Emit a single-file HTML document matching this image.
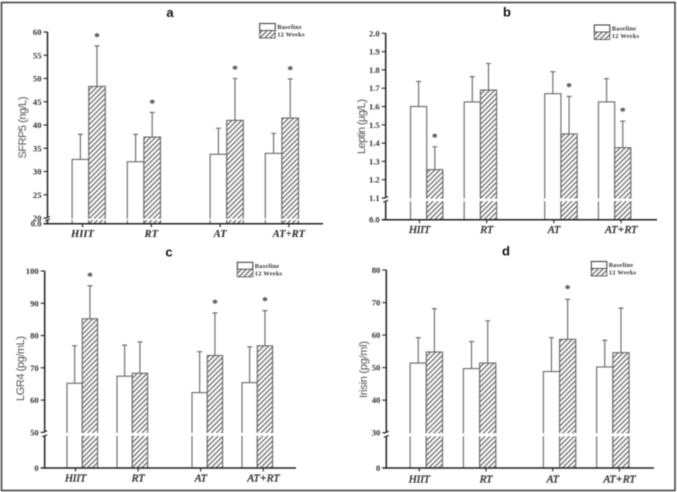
<!DOCTYPE html>
<html lang="en">
<head>
<meta charset="utf-8">
<title>SFRP5, Leptin, LGR4 and Irisin by training group</title>
<style>
  html, body { margin: 0; padding: 0; background: #fff; }
  body { width: 677px; height: 492px; overflow: hidden; }
  svg { display: block; filter: blur(0.4px); }
  .tick { font: bold 8.6px "Liberation Serif", serif; fill: #333; }
  .cat { font: italic bold 10.6px "Liberation Serif", serif; fill: #222; }
  .cat-thin { font: italic 10.8px "Liberation Serif", serif; fill: #222; stroke: #222; stroke-width: 0.3px; }
  .ytitle { font: 11px "Liberation Sans", sans-serif; fill: #555; }
  .ptitle { font: bold 13px "Liberation Sans", sans-serif; fill: #111; }
  .leg { font: bold 6.4px "Liberation Serif", serif; fill: #333; letter-spacing: .25px; }
  .star { font: bold 11.5px "Liberation Serif", serif; fill: #333; }
</style>
</head>
<body>
<svg id="chart" xmlns="http://www.w3.org/2000/svg" width="677" height="492" viewBox="0 0 677 492">
  <defs>
    <pattern id="hatch" patternUnits="userSpaceOnUse" width="3.5" height="3.5" patternTransform="rotate(45)">
      <rect width="3.5" height="3.5" fill="#fff"></rect>
      <rect width="1.15" height="3.5" fill="#5c5c5c"></rect>
    </pattern>
  </defs>
  <rect x="1.5" y="2.5" width="673.5" height="488" fill="#fff" stroke="#444" stroke-width="1.6"></rect>
</svg>
<script>
const categories = ['HIIT', 'RT', 'AT', 'AT+RT'];

const aBaseline = [32.6, 32.1, 33.7, 33.9];
const aBaselineErr = [38, 38, 39.3, 38.2];
const aWeeks = [48.3, 37.4, 41, 41.5];
const aWeeksErr = [57, 42.7, 50, 49.9];
const aSignificant = [true, true, true, true];
const aTicks = [60, 55, 50, 45, 40, 35, 30, 25, 20];

const bBaseline = [1.6, 1.625, 1.67, 1.625];
const bBaselineErr = [1.737, 1.763, 1.79, 1.752];
const bWeeks = [1.255, 1.69, 1.45, 1.375];
const bWeeksErr = [1.38, 1.835, 1.655, 1.52];
const bSignificant = [true, false, true, true];
const bTicks = [2.0, 1.9, 1.8, 1.7, 1.6, 1.5, 1.4, 1.3, 1.2, 1.1];

const cBaseline = [65.2, 67.4, 62.3, 65.4];
const cBaselineErr = [76.8, 77, 75, 76.5];
const cWeeks = [85.2, 68.3, 73.8, 76.8];
const cWeeksErr = [95.4, 78, 87, 87.7];
const cSignificant = [true, false, true, true];
const cTicks = [100, 90, 80, 70, 60, 50];

const dBaseline = [51.4, 49.7, 48.8, 50.2];
const dBaselineErr = [59.2, 58, 59.2, 58.4];
const dWeeks = [54.8, 51.4, 58.7, 54.6];
const dWeeksErr = [68.1, 64.4, 71, 68.3];
const dSignificant = [false, false, true, false];
const dTicks = [80, 70, 60, 50, 40, 30];

const svg = document.getElementById('chart');
const NS = 'http://www.w3.org/2000/svg';

function make(parent, tag, attrs, text) {
  const node = document.createElementNS(NS, tag);
  for (const k in attrs) node.setAttribute(k, attrs[k]);
  if (text !== undefined) node.textContent = text;
  parent.appendChild(node);
  return node;
}

function drawPanel(p) {
  const top = p.ticks[0];
  const low = p.ticks[p.ticks.length - 1];
  // broken y axis: linear from low..top above the break, compressed zero below it
  const y = v => p.yBreak + (v - low) / (top - low) * (p.yTop - p.yBreak);
  // bar clusters: a half-step gap separates the first two groups from the last two
  const cx = i => p.x0 + (i + (i >= 2 ? 0.5 : 0)) * p.step;
  // category ticks are evenly spaced, independent of the clusters
  const tx = i => p.tick0 + i * p.tickStep;

  const g = make(svg, 'g', {});
  
  

  const title = make(g, 'text', { class: 'ptitle', x: p.titleX, y: p.titleY, 'text-anchor': 'middle' }, p.id);
  
  

  categories.forEach((name, i) => {
    const series = [
      { vals: p.base, errs: p.baseErr, left: cx(i) - p.barW, fill: '#fff', key: 'baseline' },
      { vals: p.wk, errs: p.wkErr, left: cx(i), fill: 'url(#hatch)', key: '12-weeks' }
    ];
    series.forEach(s => {
      const by = y(s.vals[i]);
      const barX = s.left + p.barW / 2;
      const bar = make(g, 'rect', { x: s.left, y: by, width: p.barW, height: p.yZero - by, fill: s.fill, stroke: '#666', 'stroke-width': 1.1 });
      
      

      const ey = y(s.errs[i]);
      const err = make(g, 'path', { d: 'M' + barX + ' ' + by + 'V' + ey + 'M' + (barX - 2.5) + ' ' + ey + 'H' + (barX + 2.5), fill: 'none', stroke: '#666', 'stroke-width': 1.1 });
      
      
    });

    if (p.sig[i]) {
      const star = make(g, 'text', { class: 'star', x: cx(i) + p.barW / 2, y: y(p.wkErr[i]) - p.starGap, 'text-anchor': 'middle' }, '*');
      
      
    }

    const tickMark = make(g, 'line', { x1: tx(i), x2: tx(i), y1: p.yZero, y2: p.yZero + 3.5, stroke: '#222', 'stroke-width': 1.1 });
    
    

    const lab = make(g, 'text', { class: p.catClass, x: tx(i), y: p.catY, 'text-anchor': 'middle' }, name);
    
    
  });

  // white strip across the bars at the axis break
  const gap = make(g, 'rect', { x: p.axisX + 3, y: p.yBreak + 0.6, width: p.xEnd - p.axisX - 3, height: p.breakH, fill: '#fff' });
  
  

  const yAxis = make(g, 'path', { d: 'M' + p.axisX + ' ' + p.yTop + 'V' + (p.yBreak - 0.5) + 'M' + p.axisX + ' ' + (p.yBreak + p.breakH + 0.5) + 'V' + p.yZero, fill: 'none', stroke: '#222', 'stroke-width': 1.5 });
  
  

  const brk = make(g, 'path', { d: 'M' + (p.axisX - 2.5) + ' ' + (p.yBreak + 0.5) + 'L' + (p.axisX + 2.5) + ' ' + (p.yBreak - 1.5) + 'M' + (p.axisX - 2.5) + ' ' + (p.yBreak + p.breakH + 1.5) + 'L' + (p.axisX + 2.5) + ' ' + (p.yBreak + p.breakH - 0.5), fill: 'none', stroke: '#222', 'stroke-width': 1.1 });
  
  

  const xAxis = make(g, 'line', { x1: p.axisX - 4, x2: p.xEnd, y1: p.yZero, y2: p.yZero, stroke: '#222', 'stroke-width': 1.5 });
  
  

  p.ticks.forEach(v => {
    const yt = make(g, 'line', { x1: p.axisX - 4, x2: p.axisX, y1: y(v), y2: y(v), stroke: '#222', 'stroke-width': 1.1 });
    
    

    const lbl = make(g, 'text', { class: 'tick', x: p.axisX - 6, y: y(v) + 3, 'text-anchor': 'end' }, v.toFixed(p.decimals));
    
    
  });

  const zero = make(g, 'text', { class: 'tick', x: p.axisX - 6, y: p.yZero + 3, 'text-anchor': 'end' }, p.zeroLabel);
  
  

  const yTitle = make(g, 'text', { class: 'ytitle', transform: 'translate(' + p.yTitleX + ' ' + p.yTitleY + ') rotate(-90)', 'text-anchor': 'middle', textLength: p.yTitleLen }, p.yTitle);
  
  

  const legA = make(g, 'rect', { x: p.legX, y: p.legY, width: 15.5, height: 7, fill: '#fff', stroke: '#333', 'stroke-width': 1 });
  
  

  const legB = make(g, 'rect', { x: p.legX, y: p.legY + 7, width: 15.5, height: 7.5, fill: 'url(#hatch)', stroke: '#555', 'stroke-width': 0.9 });
  
  

  const legTextA = make(g, 'text', { class: 'leg', x: p.legX + 17.5, y: p.legY + 5.5 }, 'Baseline');
  
  

  const legTextB = make(g, 'text', { class: 'leg', x: p.legX + 17.5, y: p.legY + 13 }, '12 Weeks');
  
  
}

drawPanel({ id: 'a', titleX: 170, titleY: 17, base: aBaseline, baseErr: aBaselineErr, wk: aWeeks, wkErr: aWeeksErr, sig: aSignificant, ticks: aTicks, decimals: 0, zeroLabel: '0.0',
  axisX: 47.5, xEnd: 323, yTop: 32, yBreak: 218, yZero: 223.7, breakH: 1.5, x0: 88.7, step: 55.2, barW: 16.6, tick0: 82.5, tickStep: 68.8, catY: 237, catClass: 'cat',
  starGap: 5.5, yTitle: 'SFRP5 (ng/L)', yTitleX: 26, yTitleY: 127.5, yTitleLen: 62, legX: 259.7, legY: 23.5 });

drawPanel({ id: 'b', titleX: 507, titleY: 16.5, base: bBaseline, baseErr: bBaselineErr, wk: bWeeks, wkErr: bWeeksErr, sig: bSignificant, ticks: bTicks, decimals: 1, zeroLabel: '0.0',
  axisX: 385.7, xEnd: 657, yTop: 33.3, yBreak: 198, yZero: 219.7, breakH: 2.6, x0: 426.7, step: 53.7, barW: 16.2, tick0: 419.5, tickStep: 67.2, catY: 233, catClass: 'cat-thin',
  starGap: 6, yTitle: 'Leptin (µg/L)', yTitleX: 365, yTitleY: 126.5, yTitleLen: 55, legX: 594.3, legY: 25 });

drawPanel({ id: 'c', titleX: 169, titleY: 256.5, base: cBaseline, baseErr: cBaselineErr, wk: cWeeks, wkErr: cWeeksErr, sig: cSignificant, ticks: cTicks, decimals: 0, zeroLabel: '0',
  axisX: 44.7, xEnd: 296, yTop: 271, yBreak: 432.3, yZero: 468, breakH: 3, x0: 82.3, step: 50, barW: 15.3, tick0: 75.5, tickStep: 62.6, catY: 481.5, catClass: 'cat-thin',
  starGap: 6, yTitle: 'LGR4 (pg/mL)', yTitleX: 24, yTitleY: 368.5, yTitleLen: 65, legX: 237.3, legY: 262.3 });

drawPanel({ id: 'd', titleX: 506, titleY: 255.5, base: dBaseline, baseErr: dBaselineErr, wk: dWeeks, wkErr: dWeeksErr, sig: dSignificant, ticks: dTicks, decimals: 0, zeroLabel: '0',
  axisX: 386.3, xEnd: 654, yTop: 270, yBreak: 432.7, yZero: 468, breakH: 3, x0: 426.3, step: 53.3, barW: 16.2, tick0: 419.3, tickStep: 66.7, catY: 482.5, catClass: 'cat-thin',
  starGap: 7, yTitle: 'Irisin (pg/ml)', yTitleX: 367, yTitleY: 369.5, yTitleLen: 57, legX: 591.3, legY: 261.5 });
</script>
</body>
</html>
